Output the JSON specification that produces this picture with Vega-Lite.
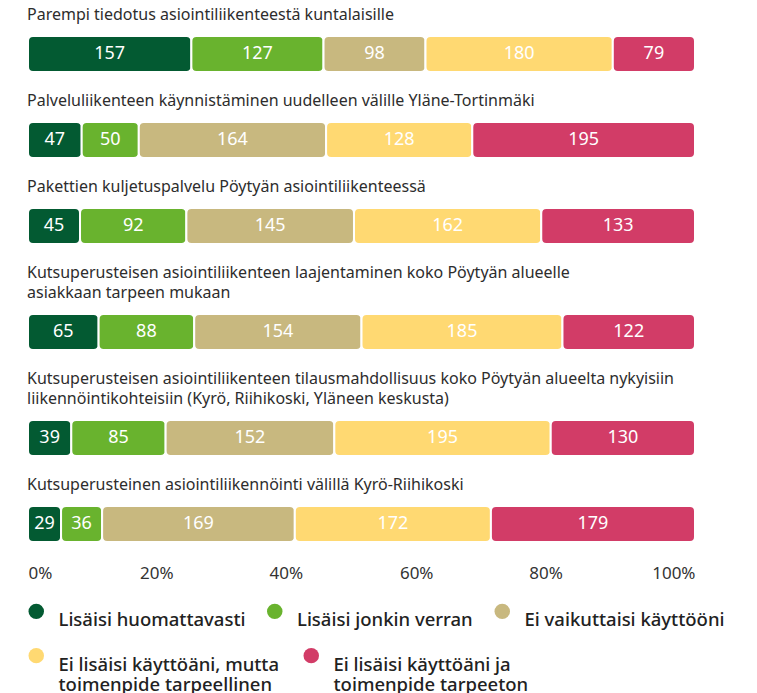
{
  "$schema": "https://vega.github.io/schema/vega-lite/v6.json",
  "background": "white",
  "padding": {"left": 27, "top": 7, "right": 10, "bottom": 2},
  "config": {
    "view": {"stroke": null},
    "font": "Noto Sans",
    "concat": {"spacing": 20},
    "title": {"anchor": "start", "fontSize": 16, "fontWeight": "normal", "color": "#2d2d2d", "offset": 12, "lineHeight": 20, "font": "Noto Sans"}
  },
  "data": {"values": [
    {"q": 1, "k": 1, "cat": "Lisäisi huomattavasti", "n": 157},
    {"q": 1, "k": 2, "cat": "Lisäisi jonkin verran", "n": 127},
    {"q": 1, "k": 3, "cat": "Ei vaikuttaisi käyttööni", "n": 98},
    {"q": 1, "k": 4, "cat": "Ei lisäisi käyttöäni, mutta toimenpide tarpeellinen", "n": 180},
    {"q": 1, "k": 5, "cat": "Ei lisäisi käyttöäni ja toimenpide tarpeeton", "n": 79},
    {"q": 2, "k": 1, "cat": "Lisäisi huomattavasti", "n": 47},
    {"q": 2, "k": 2, "cat": "Lisäisi jonkin verran", "n": 50},
    {"q": 2, "k": 3, "cat": "Ei vaikuttaisi käyttööni", "n": 164},
    {"q": 2, "k": 4, "cat": "Ei lisäisi käyttöäni, mutta toimenpide tarpeellinen", "n": 128},
    {"q": 2, "k": 5, "cat": "Ei lisäisi käyttöäni ja toimenpide tarpeeton", "n": 195},
    {"q": 3, "k": 1, "cat": "Lisäisi huomattavasti", "n": 45},
    {"q": 3, "k": 2, "cat": "Lisäisi jonkin verran", "n": 92},
    {"q": 3, "k": 3, "cat": "Ei vaikuttaisi käyttööni", "n": 145},
    {"q": 3, "k": 4, "cat": "Ei lisäisi käyttöäni, mutta toimenpide tarpeellinen", "n": 162},
    {"q": 3, "k": 5, "cat": "Ei lisäisi käyttöäni ja toimenpide tarpeeton", "n": 133},
    {"q": 4, "k": 1, "cat": "Lisäisi huomattavasti", "n": 65},
    {"q": 4, "k": 2, "cat": "Lisäisi jonkin verran", "n": 88},
    {"q": 4, "k": 3, "cat": "Ei vaikuttaisi käyttööni", "n": 154},
    {"q": 4, "k": 4, "cat": "Ei lisäisi käyttöäni, mutta toimenpide tarpeellinen", "n": 185},
    {"q": 4, "k": 5, "cat": "Ei lisäisi käyttöäni ja toimenpide tarpeeton", "n": 122},
    {"q": 5, "k": 1, "cat": "Lisäisi huomattavasti", "n": 39},
    {"q": 5, "k": 2, "cat": "Lisäisi jonkin verran", "n": 85},
    {"q": 5, "k": 3, "cat": "Ei vaikuttaisi käyttööni", "n": 152},
    {"q": 5, "k": 4, "cat": "Ei lisäisi käyttöäni, mutta toimenpide tarpeellinen", "n": 195},
    {"q": 5, "k": 5, "cat": "Ei lisäisi käyttöäni ja toimenpide tarpeeton", "n": 130},
    {"q": 6, "k": 1, "cat": "Lisäisi huomattavasti", "n": 29},
    {"q": 6, "k": 2, "cat": "Lisäisi jonkin verran", "n": 36},
    {"q": 6, "k": 3, "cat": "Ei vaikuttaisi käyttööni", "n": 169},
    {"q": 6, "k": 4, "cat": "Ei lisäisi käyttöäni, mutta toimenpide tarpeellinen", "n": 172},
    {"q": 6, "k": 5, "cat": "Ei lisäisi käyttöäni ja toimenpide tarpeeton", "n": 179}
  ]},
  "transform": [
    {"stack": "n", "groupby": ["q"], "sort": [{"field": "k"}], "offset": "normalize", "as": ["x0", "x1"]},
    {"calculate": "(datum.x0 + datum.x1) / 2", "as": "xm"}
  ],
  "resolve": {"scale": {"x": "shared", "color": "shared"}, "legend": {"color": "shared"}},
  "vconcat": [
    {
      "title": {"text": "Parempi tiedotus asiointiliikenteestä kuntalaisille"},
      "width": 667, "height": 36,
      "transform": [{"filter": "datum.q == 1"}],
      "encoding": {"y": {"field": "q", "type": "nominal", "axis": null, "scale": {"paddingInner": 0, "paddingOuter": 0}}},
      "layer": [
        {"mark": {"type": "bar", "cornerRadius": 5, "stroke": "white", "strokeWidth": 2},
         "encoding": {
           "x": {"field": "x0", "type": "quantitative", "scale": {"domain": [0, 1]}, "axis": null},
           "x2": {"field": "x1"},
           "color": {"field": "cat", "type": "nominal",
             "scale": {"domain": ["Lisäisi huomattavasti", "Lisäisi jonkin verran", "Ei vaikuttaisi käyttööni", "Ei lisäisi käyttöäni, mutta toimenpide tarpeellinen", "Ei lisäisi käyttöäni ja toimenpide tarpeeton"], "range": ["#035a32", "#69b32e", "#c8b87f", "#ffd972", "#d23c67"]},
             "legend": {"values": ["Lisäisi huomattavasti", "Lisäisi jonkin verran", "Ei vaikuttaisi käyttööni"], "orient": "none", "legendX": -1, "legendY": 566, "direction": "horizontal", "columns": 3, "symbolType": "circle", "symbolSize": 240, "symbolStrokeWidth": 0, "symbolOpacity": 1, "labelFontSize": 18.5, "labelFont": "Noto Sans", "labelFontWeight": 500, "labelColor": "#222222", "labelLimit": 400, "labelOffset": 13, "columnPadding": 19.5, "title": null, "padding": 0, "labelBaseline": "top",
               "encode": {"labels": {"dy": {"value": -11}}}}
           }
         }},
        {"mark": {"type": "text", "color": "white", "fontSize": 18, "baseline": "middle"},
         "encoding": {"x": {"field": "xm", "type": "quantitative"}, "text": {"field": "n"}}}
      ]
    },
    {
      "title": {"text": "Palveluliikenteen käynnistäminen uudelleen välille Yläne-Tortinmäki"},
      "width": 667, "height": 36,
      "transform": [{"filter": "datum.q == 2"}],
      "encoding": {"y": {"field": "q", "type": "nominal", "axis": null, "scale": {"paddingInner": 0, "paddingOuter": 0}}},
      "layer": [
        {"mark": {"type": "bar", "cornerRadius": 5, "stroke": "white", "strokeWidth": 2},
         "encoding": {
           "x": {"field": "x0", "type": "quantitative", "scale": {"domain": [0, 1]}, "axis": null},
           "x2": {"field": "x1"},
           "color": {"field": "cat", "type": "nominal"}
         }},
        {"mark": {"type": "text", "color": "white", "fontSize": 18, "baseline": "middle"},
         "encoding": {"x": {"field": "xm", "type": "quantitative"}, "text": {"field": "n"}}}
      ]
    },
    {
      "title": {"text": "Pakettien kuljetuspalvelu Pöytyän asiointiliikenteessä"},
      "width": 667, "height": 36,
      "transform": [{"filter": "datum.q == 3"}],
      "encoding": {"y": {"field": "q", "type": "nominal", "axis": null, "scale": {"paddingInner": 0, "paddingOuter": 0}}},
      "layer": [
        {"mark": {"type": "bar", "cornerRadius": 5, "stroke": "white", "strokeWidth": 2},
         "encoding": {
           "x": {"field": "x0", "type": "quantitative", "scale": {"domain": [0, 1]}, "axis": null},
           "x2": {"field": "x1"},
           "color": {"field": "cat", "type": "nominal"}
         }},
        {"mark": {"type": "text", "color": "white", "fontSize": 18, "baseline": "middle"},
         "encoding": {"x": {"field": "xm", "type": "quantitative"}, "text": {"field": "n"}}}
      ]
    },
    {
      "title": {"text": ["Kutsuperusteisen asiointiliikenteen laajentaminen koko Pöytyän alueelle", "asiakkaan tarpeen mukaan"]},
      "width": 667, "height": 36,
      "transform": [{"filter": "datum.q == 4"}],
      "encoding": {"y": {"field": "q", "type": "nominal", "axis": null, "scale": {"paddingInner": 0, "paddingOuter": 0}}},
      "layer": [
        {"mark": {"type": "bar", "cornerRadius": 5, "stroke": "white", "strokeWidth": 2},
         "encoding": {
           "x": {"field": "x0", "type": "quantitative", "scale": {"domain": [0, 1]}, "axis": null},
           "x2": {"field": "x1"},
           "color": {"field": "cat", "type": "nominal"}
         }},
        {"mark": {"type": "text", "color": "white", "fontSize": 18, "baseline": "middle"},
         "encoding": {"x": {"field": "xm", "type": "quantitative"}, "text": {"field": "n"}}}
      ]
    },
    {
      "title": {"text": ["Kutsuperusteisen asiointiliikenteen tilausmahdollisuus koko Pöytyän alueelta nykyisiin", "liikennöintikohteisiin (Kyrö, Riihikoski, Yläneen keskusta)"]},
      "width": 667, "height": 36,
      "transform": [{"filter": "datum.q == 5"}],
      "encoding": {"y": {"field": "q", "type": "nominal", "axis": null, "scale": {"paddingInner": 0, "paddingOuter": 0}}},
      "layer": [
        {"mark": {"type": "bar", "cornerRadius": 5, "stroke": "white", "strokeWidth": 2},
         "encoding": {
           "x": {"field": "x0", "type": "quantitative", "scale": {"domain": [0, 1]}, "axis": null},
           "x2": {"field": "x1"},
           "color": {"field": "cat", "type": "nominal"}
         }},
        {"mark": {"type": "text", "color": "white", "fontSize": 18, "baseline": "middle"},
         "encoding": {"x": {"field": "xm", "type": "quantitative"}, "text": {"field": "n"}}}
      ]
    },
    {
      "title": {"text": "Kutsuperusteinen asiointiliikennöinti välillä Kyrö-Riihikoski"},
      "width": 667, "height": 36,
      "transform": [{"filter": "datum.q == 6"}],
      "encoding": {"y": {"field": "q", "type": "nominal", "axis": null, "scale": {"paddingInner": 0, "paddingOuter": 0}}},
      "layer": [
        {"mark": {"type": "bar", "cornerRadius": 5, "stroke": "white", "strokeWidth": 2},
         "encoding": {
           "x": {"field": "x0", "type": "quantitative", "scale": {"domain": [0, 1]},
             "axis": {"values": [0, 0.2, 0.4, 0.6, 0.8, 1], "format": "%", "domain": false, "ticks": false, "grid": false, "title": null, "labelFontSize": 17, "labelFont": "Noto Sans", "labelColor": "#333333", "labelPadding": 23, "labelFlush": true,
               "labelOffset": {"condition": [
                 {"test": "datum.value > 0.1 && datum.value < 0.3", "value": -5},
                 {"test": "datum.value > 0.3 && datum.value < 0.5", "value": -9},
                 {"test": "datum.value > 0.5 && datum.value < 0.7", "value": -12},
                 {"test": "datum.value > 0.7 && datum.value < 0.9", "value": -16}
               ], "value": 0}}},
           "x2": {"field": "x1"},
           "color": {"field": "cat", "type": "nominal"}
         }},
        {"mark": {"type": "text", "color": "white", "fontSize": 18, "baseline": "middle"},
         "encoding": {"x": {"field": "xm", "type": "quantitative"}, "text": {"field": "n"}}},
        {"mark": {"type": "point", "filled": true, "opacity": 0},
         "transform": [{"filter": "datum.k >= 4"}],
         "encoding": {
           "x": {"field": "xm", "type": "quantitative"},
           "fill": {"field": "cat", "type": "nominal",
             "scale": {"domain": ["Ei lisäisi käyttöäni, mutta toimenpide tarpeellinen", "Ei lisäisi käyttöäni ja toimenpide tarpeeton"], "range": ["#ffd972", "#d23c67"]},
             "legend": {"orient": "none", "legendX": -1, "legendY": 610, "direction": "horizontal", "columns": 2, "symbolType": "circle", "symbolSize": 240, "symbolStrokeWidth": 0, "symbolOpacity": 1, "labelFontSize": 18.5, "labelFont": "Noto Sans", "labelFontWeight": 500, "labelColor": "#222222", "labelLimit": 400, "labelOffset": 13, "columnPadding": 22, "title": null, "padding": 0, "labelBaseline": "top",
               "labelExpr": "datum.label == 'Ei lisäisi käyttöäni, mutta toimenpide tarpeellinen' ? ['Ei lisäisi käyttöäni, mutta', 'toimenpide tarpeellinen'] : ['Ei lisäisi käyttöäni ja', 'toimenpide tarpeeton']"}
           }
         }}
      ]
    }
  ]
}
